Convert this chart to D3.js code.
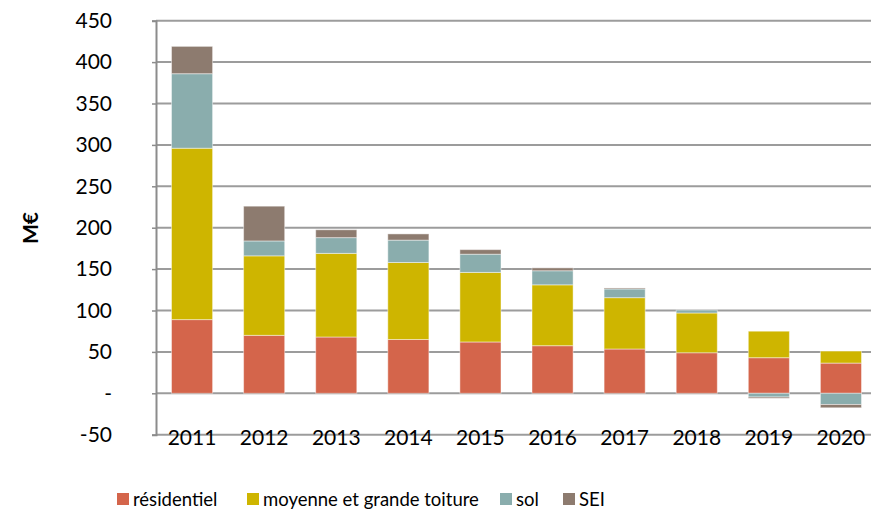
<!DOCTYPE html>
<html>
<head>
<meta charset="utf-8">
<script src="https://cdn.jsdelivr.net/npm/d3@7"></script>
<style>
  body { margin: 0; background: #fff; }
  text { font-family: Lato, "Liberation Sans", sans-serif; fill: #000; }
</style>
</head>
<body>
<svg width="871" height="513"></svg>
<script>
var years = ["2011", "2012", "2013", "2014", "2015", "2016", "2017", "2018", "2019", "2020"];
var residentiel = [89, 70, 68, 65, 62, 57.5, 53.5, 49, 43, 36.5];
var toiture = [207, 96, 101, 93, 84, 73.5, 62, 48, 32, 14.5];
var sol = [90, 18, 19, 27, 22, 17, 10.5, 3.5, -4.5, -13.5];
var sei = [33, 42, 9.5, 7.5, 5.5, 3.5, 1.2, 0, -1.5, -4];
var seriesNames = ["résidentiel", "moyenne et grande toiture", "sol", "SEI"];
var seriesColors = ["#d4654b", "#ceb500", "#8aadad", "#8d7b6f"];
var yTicks = [-50, 0, 50, 100, 150, 200, 250, 300, 350, 400, 450];

function main() {
    var svg = d3.select("svg");
    var left = 156, right = 877, top = 20.7, bottom = 434.7;

    var x = d3.scaleBand().domain(years).range([left, right]).paddingInner(0.43).paddingOuter(0.215);
    var y = d3.scaleLinear().domain([-50, 450]).range([bottom, top]);

    // grid
    svg.append("g").selectAll("line")
       .data(yTicks)
       .enter().append("line")
       .attr("x1", left).attr("x2", 871)
       .attr("y1", function(d) { return y(d); })
       .attr("y2", function(d) { return y(d); })
       .attr("stroke", "#9c9c9c")
       .attr("stroke-width", 2);

    // stacked data, negatives stacked downward
    var rows = years.map(function(yr, i) {
        return { year: yr, vals: [residentiel[i], toiture[i], sol[i], sei[i]] };
    });

    var bars = svg.append("g");
    rows.forEach(function(r) {
        var pos = 0, neg = 0;
        r.vals.forEach(function(v, k) {
            var y0, y1;
            if (v >= 0) { y0 = pos; y1 = pos + v; pos = y1; }
            else { y0 = neg; y1 = neg + v; neg = y1; }
            if (v === 0) return;
            bars.append("rect")
                .attr("x", x(r.year))
                .attr("width", x.bandwidth())
                .attr("y", y(Math.max(y0, y1)))
                .attr("height", Math.abs(y(y0) - y(y1)))
                .attr("fill", seriesColors[k])
                .attr("stroke", "rgba(255,255,255,0.45)")
                .attr("stroke-width", 1);
        });
    });

    // y axis
    var yAxis = d3.axisLeft(y).tickValues(yTicks).tickSize(4)
        .tickFormat(function(d) { return d === 0 ? "-" : d; });
    var ya = svg.append("g").attr("transform", "translate(" + left + ",0)").call(yAxis);
    ya.select(".domain").attr("stroke", "#8c8c8c").attr("stroke-width", 2);
    ya.selectAll(".tick line").attr("stroke", "#8c8c8c").attr("stroke-width", 1.5);
    ya.selectAll(".tick text")
      .attr("x", -44)
      .style("font-family", "Lato, sans-serif")
      .style("font-size", "21px");

    // x labels
    svg.append("g").selectAll("text")
       .data(years)
       .enter().append("text")
       .attr("x", function(d) { return x(d) + x.bandwidth() / 2; })
       .attr("y", 445)
       .attr("text-anchor", "middle")
       .style("font-size", "21px")
       .text(function(d) { return d; });

    // y title
    svg.append("text")
       .attr("transform", "translate(38,228) rotate(-90)")
       .attr("text-anchor", "middle")
       .style("font-size", "21px")
       .style("font-weight", "bold")
       .text("M€");

    // legend
    var legendX = [117, 247, 500, 563];
    var lg = svg.append("g").selectAll("g")
       .data(seriesNames)
       .enter().append("g")
       .attr("transform", function(d, i) { return "translate(" + legendX[i] + ",493)"; });
    lg.append("rect").attr("width", 12).attr("height", 12)
      .attr("fill", function(d, i) { return seriesColors[i]; });
    lg.append("text").attr("x", 16).attr("y", 12.5)
      .style("font-size", "18.5px")
      .text(function(d) { return d; });
}
main();
</script>
</body>
</html>
